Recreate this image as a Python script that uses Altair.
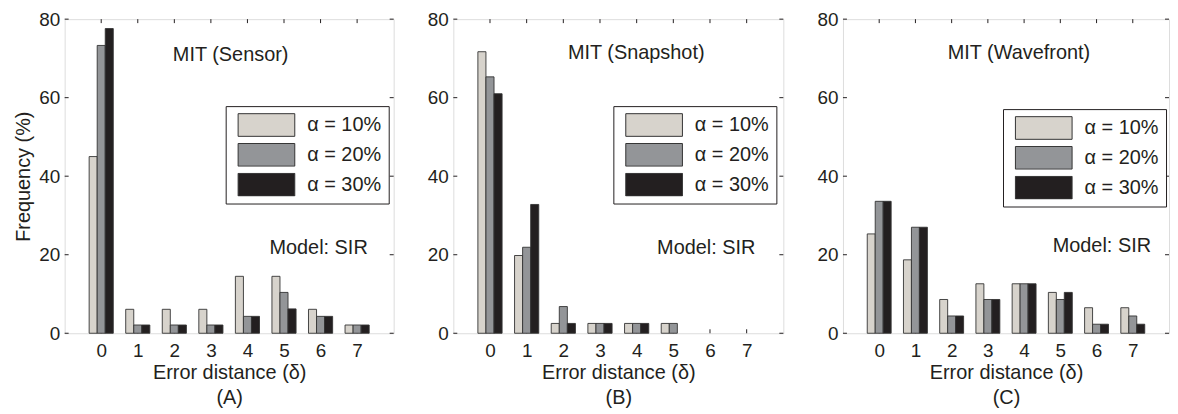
import altair as alt
import pandas as pd

# ---------------- data ----------------
DELTAS = [0, 1, 2, 3, 4, 5, 6, 7]
SERIES = ["α = 10%", "α = 20%", "α = 30%"]
COLORS = ["#d7d3cc", "#939598", "#231f20"]

SENSOR_10 = [45.0, 6.1, 6.1, 6.1, 14.5, 14.5, 6.1, 2.1]
SENSOR_20 = [73.3, 2.1, 2.1, 2.1, 4.3, 10.4, 4.3, 2.1]
SENSOR_30 = [77.6, 2.1, 2.1, 2.1, 4.3, 6.2, 4.3, 2.1]

SNAPSHOT_10 = [71.7, 19.8, 2.5, 2.5, 2.5, 2.5, 0.0, 0.0]
SNAPSHOT_20 = [65.3, 21.9, 6.8, 2.5, 2.5, 2.5, 0.0, 0.0]
SNAPSHOT_30 = [61.0, 32.8, 2.5, 2.5, 2.5, 0.0, 0.0, 0.0]

WAVEFRONT_10 = [25.3, 18.7, 8.6, 12.6, 12.6, 10.4, 6.5, 6.5]
WAVEFRONT_20 = [33.6, 27.0, 4.4, 8.6, 12.6, 8.6, 2.3, 4.4]
WAVEFRONT_30 = [33.6, 27.0, 4.4, 8.6, 12.6, 10.4, 2.3, 2.3]

PANEL_TITLES = ["MIT (Sensor)", "MIT (Snapshot)", "MIT (Wavefront)"]
PANEL_TAGS = ["(A)", "(B)", "(C)"]
MODEL_LABEL = "Model: SIR"
Y_TICKS = [0, 20, 40, 60, 80]
X_TITLE = "Error distance (δ)"
Y_TITLE = "Frequency (%)"

PANEL_DATA = [
    [SENSOR_10, SENSOR_20, SENSOR_30],
    [SNAPSHOT_10, SNAPSHOT_20, SNAPSHOT_30],
    [WAVEFRONT_10, WAVEFRONT_20, WAVEFRONT_30],
]

# ---------------- layout / style ----------------
FONT = "Liberation Sans"
INK = "#231f20"
H = 316
WIDTHS = [331, 332, 328]
TITLE_POS = [(167, 42.5), (184, 40.5), (177, 40)]
MODEL_POS = [(206, 236.5), (205, 236.5), (211, 234.5)]
LEGEND_POS = [(162, 87.5), (161, 87.5), (161, 90.5)]
BAR_W = 0.22
TICK_LEN = 4


def panel(i):
    W = WIDTHS[i]
    rows = []
    for k, vals in enumerate(PANEL_DATA[i]):
        for d, v in zip(DELTAS, vals):
            rows.append({"delta": d, "series": SERIES[k], "k": k, "value": v})
    df = pd.DataFrame(rows)

    xscale = alt.Scale(domain=[-1, 8], nice=False, zero=False)
    yscale = alt.Scale(domain=[0, 80], nice=False)

    x_axis = alt.Axis(
        values=DELTAS, format="d", ticks=False, domain=False, grid=False,
        labelFontSize=19, labelPadding=8, labelColor=INK, labelFont=FONT,
        title=[X_TITLE, PANEL_TAGS[i]], titleFontSize=20, titleFont=FONT,
        titleFontWeight="normal", titleColor=INK, titlePadding=3,
        titleLineHeight=25,
    )
    y_axis = alt.Axis(
        values=Y_TICKS, ticks=False, domain=False, grid=False,
        labelFontSize=19, labelPadding=5, labelColor=INK, labelFont=FONT,
        title=Y_TITLE if i == 0 else "", titleFontSize=20, titleFont=FONT,
        titleFontWeight="normal", titleColor=INK, titlePadding=5,
    )

    lx, ly = LEGEND_POS[i]
    legend = alt.Legend(
        title=None, orient="none", legendX=lx, legendY=ly,
        symbolType="M-1,-0.4H1V0.4H-1Z", symbolSize=3249,
        symbolStrokeColor="#333333", symbolStrokeWidth=1,
        clipHeight=24, rowPadding=6, padding=7,
        symbolOffset=5, labelOffset=12,
        labelFontSize=20, labelFont=FONT, labelColor=INK,
        strokeColor=INK, fillColor="white",
    )

    bars = alt.Chart(df).transform_filter(
        "datum.value > 0"
    ).transform_calculate(
        x0=f"datum.delta + (datum.k - 1) * {BAR_W} - {BAR_W / 2}",
        x1=f"datum.delta + (datum.k - 1) * {BAR_W} + {BAR_W / 2}",
    ).mark_bar(stroke="#333333", strokeWidth=0.9).encode(
        x=alt.X("x0:Q", scale=xscale, axis=x_axis),
        x2="x1:Q",
        y=alt.Y("value:Q", scale=yscale, axis=y_axis),
        y2=alt.datum(0),
        color=alt.Color("series:N", scale=alt.Scale(domain=SERIES, range=COLORS),
                        legend=legend),
    )

    ytick_df = pd.DataFrame({"v": Y_TICKS})
    xtick_df = pd.DataFrame({"d": DELTAS})

    yl = alt.Chart(ytick_df).mark_rule(color=INK, strokeWidth=1).encode(
        y=alt.Y("v:Q", scale=yscale), x=alt.value(0), x2=alt.value(TICK_LEN))
    yr = alt.Chart(ytick_df).mark_rule(color=INK, strokeWidth=1).encode(
        y=alt.Y("v:Q", scale=yscale), x=alt.value(W - TICK_LEN), x2=alt.value(W))
    xt = alt.Chart(xtick_df).mark_rule(color=INK, strokeWidth=1).encode(
        x=alt.X("d:Q", scale=xscale), y=alt.value(0), y2=alt.value(TICK_LEN))
    xb = alt.Chart(xtick_df).mark_rule(color=INK, strokeWidth=1).encode(
        x=alt.X("d:Q", scale=xscale), y=alt.value(H - TICK_LEN), y2=alt.value(H))

    tx, ty = TITLE_POS[i]
    mx, my = MODEL_POS[i]
    title_df = pd.DataFrame({"t": [PANEL_TITLES[i]]})
    model_df = pd.DataFrame({"t": [MODEL_LABEL]})
    title_txt = alt.Chart(title_df).mark_text(
        font=FONT, fontSize=20, color=INK, align="center", baseline="alphabetic"
    ).encode(text="t:N", x=alt.value(tx), y=alt.value(ty))
    model_txt = alt.Chart(model_df).mark_text(
        font=FONT, fontSize=20, color=INK, align="left", baseline="alphabetic"
    ).encode(text="t:N", x=alt.value(mx), y=alt.value(my))

    return alt.layer(yl, yr, xt, xb, bars, title_txt, model_txt).properties(
        width=W, height=H)


chart = alt.hconcat(panel(0), panel(1), panel(2), spacing=60).resolve_scale(
    color="independent", x="independent", y="independent"
).properties(
    bounds="flush",
    padding={"left": 5, "top": 0, "right": 0, "bottom": 0},
).configure_view(
    stroke=INK, strokeWidth=1
).configure(background="white")

chart.save("out.html", embed_options={"renderer": "svg", "actions": False})
